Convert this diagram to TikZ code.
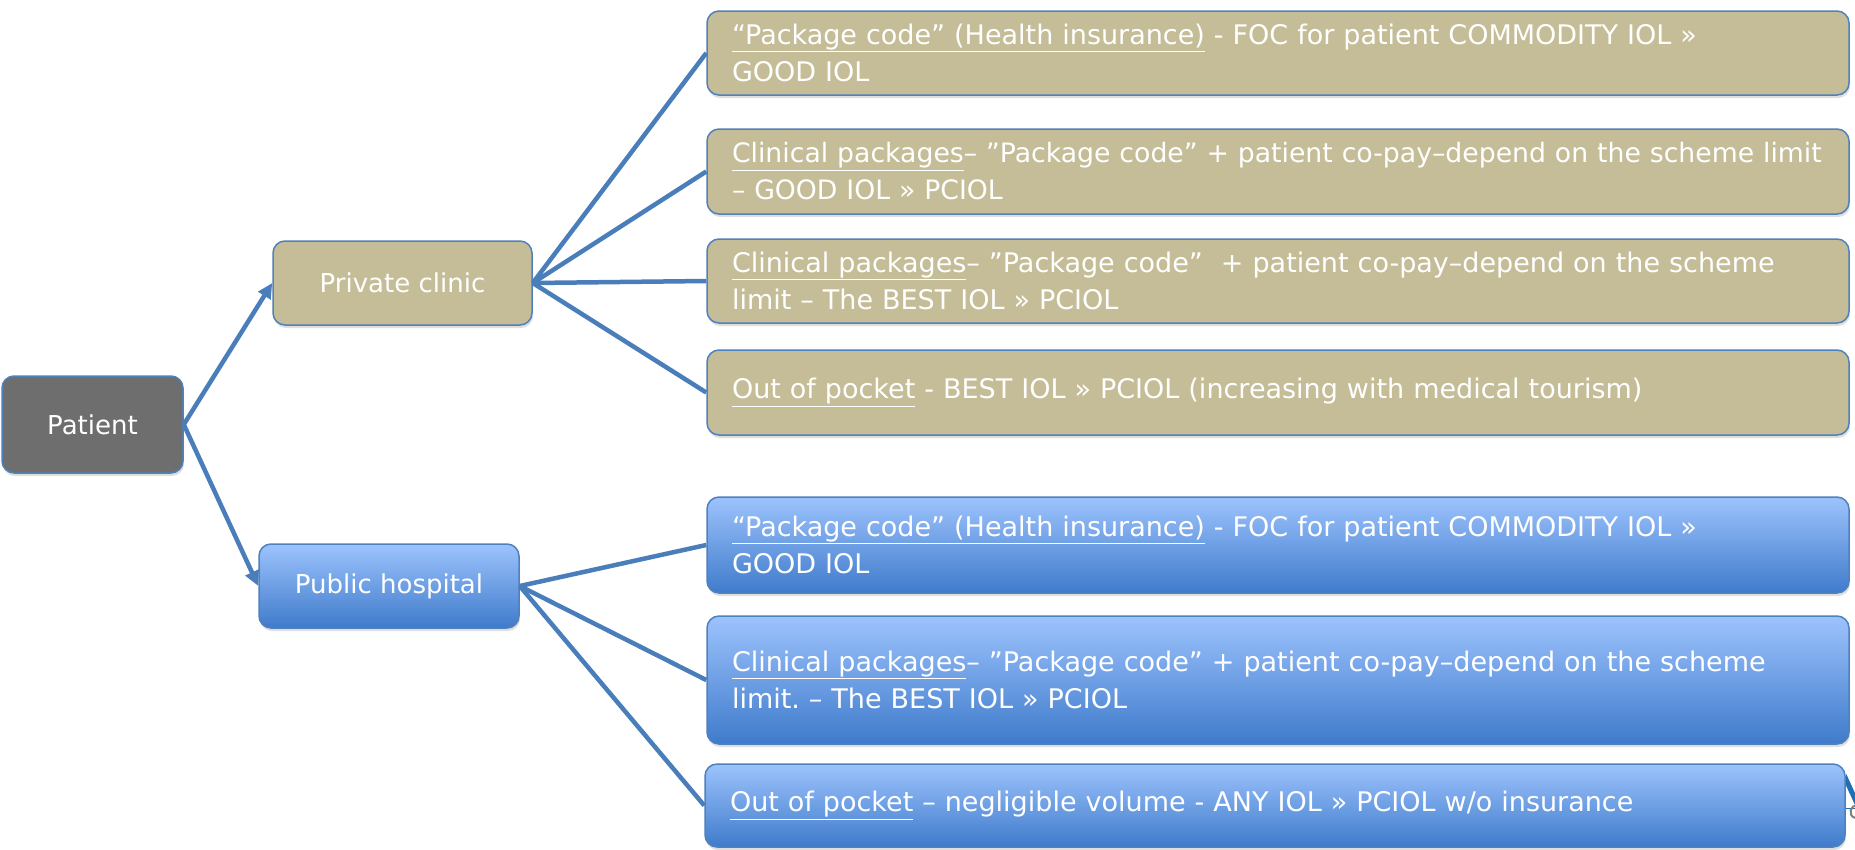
\documentclass[tikz,border=0pt]{standalone}
\usepackage{fontspec}
\setmainfont{DejaVu Sans}
\frenchspacing
\usetikzlibrary{arrows.meta,shadows}
\definecolor{tanfill}{HTML}{C4BD97}
\definecolor{edgeblue}{HTML}{4F81BD}
\definecolor{linkblue}{HTML}{4A7EBB}
\definecolor{bluetop}{HTML}{9DC3FD}
\definecolor{bluebot}{HTML}{3F7BCB}
\definecolor{greyfill}{HTML}{6E6E6E}
\definecolor{logoblue}{HTML}{1F6FB5}
\begin{document}
\begin{tikzpicture}[x=1pt,y=-1pt,
  box/.style={rounded corners=12pt, draw=edgeblue, line width=1.5pt, text=white,
    drop shadow={shadow xshift=1pt, shadow yshift=-3pt, opacity=0.25}},
  leftbox/.style={box, font=\fontsize{26}{30}\selectfont, minimum height=84pt, inner sep=0pt},
  rightbox/.style={box, font=\fontsize{27}{37}\selectfont, align=left, text width=1092pt,
    inner xsep=25pt, inner ysep=0pt},
  tanbox/.style={fill=tanfill},
  bluebox/.style={top color=bluetop, bottom color=bluebot},
  link/.style={draw=linkblue, line width=4.5pt},
  arrowlink/.style={link, -{Triangle[length=15pt,width=14pt]}},
]
\useasboundingbox[fill=white] (0,0) rectangle (1855,849);

% logo fragment at the right edge
\begin{scope}
  \clip (1846,760) rectangle (1855,849);
  \draw[line width=5pt, draw=logoblue] (1838,762) -- (1860,810);
  \draw[line width=1pt, draw=logoblue] (1846,808) -- (1855,808);
  \draw[line width=2pt, draw=gray] (1858,817) arc[start angle=60, end angle=300, x radius=5pt, y radius=-6pt];
\end{scope}

% left column
\node[leftbox, fill=greyfill, minimum width=181pt, minimum height=97pt] (patient) at (92.5,424.5) {Patient};
\node[leftbox, tanbox, minimum width=259pt] (private) at (402.5,283) {Private clinic};
\node[leftbox, bluebox, minimum width=260pt] (public) at (389,586) {Public hospital};

% private clinic options
\node[rightbox, tanbox, minimum height=84pt] (b1) at (1278,53)
  {\underline{“Package code” (Health insurance)} - FOC for patient COMMODITY IOL »\\GOOD IOL};
\node[rightbox, tanbox, minimum height=85pt, font=\fontsize{26.7}{37}\selectfont] (b2) at (1278,171.5)
  {\mbox{\underline{Clinical packages}– ”Package code” + patient co-pay–depend on the scheme limit}\\– GOOD IOL » PCIOL};
\node[rightbox, tanbox, minimum height=84pt] (b3) at (1278,281)
  {\underline{Clinical packages}– ”Package code”\ \ + patient co-pay–depend on the scheme\\limit – The BEST IOL » PCIOL};
\node[rightbox, tanbox, minimum height=85pt] (b4) at (1278,392.5)
  {\underline{Out of pocket} - BEST IOL » PCIOL (increasing with medical tourism)};

% public hospital options
\node[rightbox, bluebox, minimum height=96pt] (b5) at (1278,545)
  {\underline{“Package code” (Health insurance)} - FOC for patient COMMODITY IOL »\\GOOD IOL};
\node[rightbox, bluebox, minimum height=128pt] (b6) at (1278,680)
  {\underline{Clinical packages}– ”Package code” + patient co-pay–depend on the scheme\\limit. – The BEST IOL » PCIOL};
\node[rightbox, bluebox, minimum height=83pt, text width=1090pt] (b7) at (1275,805.5)
  {\underline{Out of pocket} – negligible volume - ANY IOL » PCIOL w/o insurance};

% connectors
\draw[arrowlink] (patient.east) -- (private.west);
\draw[arrowlink] (patient.east) -- (public.west);
\foreach \t in {b1,b2,b3,b4} \draw[link] (private.east) -- (\t.west);
\foreach \t in {b5,b6,b7} \draw[link] (public.east) -- (\t.west);
\end{tikzpicture}
\end{document}
